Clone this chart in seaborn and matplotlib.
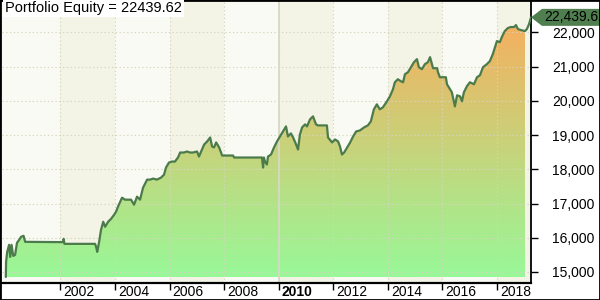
import numpy as np
import pandas as pd
import matplotlib
matplotlib.use("Agg")
import matplotlib.pyplot as plt
import seaborn as sns
from matplotlib.colors import LinearSegmentedColormap
from matplotlib.patches import Polygon, Rectangle
from matplotlib.transforms import IdentityTransform, ScaledTranslation
import matplotlib.ticker as mticker

# ---- data (decimal year, portfolio equity) ----
years = [2000.00, 2000.01, 2000.05, 2000.12, 2000.16, 2000.21, 2000.27, 2000.34, 2000.41, 2000.49,
         2000.56, 2000.65, 2000.71, 2002.10, 2002.12, 2002.15, 2003.27, 2003.31, 2003.35, 2003.42,
         2003.49, 2003.57, 2003.64, 2003.75, 2003.86, 2003.97, 2004.04, 2004.11, 2004.26, 2004.37,
         2004.48, 2004.59, 2004.70, 2004.81, 2004.92, 2005.03, 2005.18, 2005.29, 2005.40, 2005.54,
         2005.69, 2005.80, 2005.87, 2005.98, 2006.09, 2006.20, 2006.31, 2006.39, 2006.53, 2006.64,
         2006.75, 2006.86, 2007.01, 2007.08, 2007.16, 2007.27, 2007.38, 2007.49, 2007.56, 2007.63,
         2007.71, 2007.82, 2007.93, 2008.33, 2008.37, 2009.39, 2009.43, 2009.46, 2009.50, 2009.57,
         2009.61, 2009.72, 2009.83, 2009.94, 2010.05, 2010.16, 2010.27, 2010.34, 2010.45, 2010.53,
         2010.64, 2010.71, 2010.78, 2010.86, 2010.97, 2011.04, 2011.15, 2011.26, 2011.37, 2011.44,
         2011.77, 2011.81, 2011.96, 2012.07, 2012.18, 2012.25, 2012.32, 2012.40, 2012.51, 2012.62,
         2012.73, 2012.84, 2012.98, 2013.13, 2013.27, 2013.38, 2013.49, 2013.60, 2013.71, 2013.82,
         2013.97, 2014.08, 2014.19, 2014.26, 2014.37, 2014.48, 2014.56, 2014.63, 2014.74, 2014.85,
         2014.96, 2015.07, 2015.14, 2015.25, 2015.36, 2015.47, 2015.55, 2015.62, 2015.66, 2015.81,
         2015.84, 2015.91, 2016.13, 2016.17, 2016.28, 2016.35, 2016.46, 2016.54, 2016.65, 2016.72,
         2016.79, 2016.90, 2017.01, 2017.16, 2017.27, 2017.38, 2017.49, 2017.63, 2017.74, 2017.85,
         2017.93, 2018.00, 2018.11, 2018.18, 2018.29, 2018.40, 2018.51, 2018.63, 2018.70, 2018.77,
         2018.88, 2019.03, 2019.10, 2019.18, 2019.25]
equity = [14853, 15293, 15587, 15792, 15440, 15792, 15469, 15499, 15851, 15939,
          16027, 16056, 15880, 15871, 15968, 15821, 15821, 15733, 15587, 15880,
          16232, 16467, 16320, 16467, 16554, 16672, 16760, 16907, 17170, 17112,
          17112, 17112, 16965, 17200, 17112, 17464, 17698, 17698, 17728, 17698,
          17757, 17845, 18050, 18197, 18226, 18226, 18344, 18490, 18490, 18520,
          18490, 18490, 18520, 18373, 18520, 18725, 18813, 18930, 18666, 18637,
          18784, 18637, 18402, 18402, 18344, 18344, 18050, 18344, 18226, 18138,
          18373, 18432, 18637, 18813, 18960, 19106, 19253, 18960, 19048, 18930,
          18725, 18578, 19018, 19224, 19312, 19253, 19458, 19546, 19312, 19282,
          19282, 18930, 18784, 18872, 18813, 18666, 18432, 18490, 18637, 18784,
          18960, 19106, 19136, 19224, 19282, 19400, 19751, 19898, 19751, 19810,
          19986, 20133, 20338, 20543, 20631, 20573, 20543, 20778, 20837, 20983,
          21130, 21218, 20983, 20925, 21071, 21130, 21277, 21071, 20954, 20954,
          20837, 20690, 20690, 20485, 20338, 20250, 19839, 20162, 20133, 19986,
          20250, 20426, 20543, 20485, 20690, 20749, 20983, 21071, 21159, 21365,
          21570, 21746, 21716, 21863, 22039, 22127, 22157, 22157, 22215, 22098,
          22069, 22039, 22098, 22245, 22439.62]
final_value = 22439.62
title_text = "Portfolio Equity = 22439.62"
x_ticks = [2002, 2004, 2006, 2008, 2010, 2012, 2014, 2016, 2018]
x_tick_labels = ["2002", "2004", "2006", "2008", "2010", "2012", "2014", "2016", "2018"]
y_ticks = [15000, 16000, 17000, 18000, 19000, 20000, 21000, 22000]

df = pd.DataFrame({"year": years, "equity": equity})

# ---- style ----
sns.set_theme(style="white")
plt.rcParams["font.family"] = ["Liberation Sans", "DejaVu Sans"]

W, H = 600, 300
fig = plt.figure(figsize=(6, 3), dpi=100)
fig.patch.set_facecolor("white")
ax = fig.add_axes([2 / W, 17 / H, 529 / W, 283 / H])

xmin, xmax = 1999.86, 2019.25
ymin, ymax = 14677, 22947
base = 14853
fill_end = 2019.07

ax.set_facecolor("#fafaf4")
for a in [2002, 2006, 2010, 2014, 2018]:
    ax.axvspan(a, min(a + 2, xmax), color="#f3f3e6", lw=0, zorder=0)

# gradient fill under the curve
fill_df = df[df["year"] <= fill_end]
fx = np.r_[fill_df["year"].iloc[0], fill_df["year"].values, fill_df["year"].iloc[-1]]
fy = np.r_[base, fill_df["equity"].values, base]
clip = Polygon(np.column_stack([fx, fy]), closed=True, transform=ax.transData,
               facecolor="none", edgecolor="none")
ax.add_patch(clip)
cmap = LinearSegmentedColormap.from_list("eq", ["#98f898", "#f7ae5e"])
grad = np.linspace(0, 1, 256).reshape(-1, 1)
im = ax.imshow(grad, extent=[fx.min(), fx.max(), base, final_value], origin="lower",
               cmap=cmap, aspect="auto", zorder=1, interpolation="bicubic")
im.set_clip_path(clip)

# grid
for xt in x_ticks:
    ax.axvline(xt, color="#d6d6c0", lw=0.8, ls=(0, (1.2, 2.2)), zorder=2)
for yt in y_ticks:
    ax.axhline(yt, color="#d6d6c0", lw=0.8, ls=(0, (1.2, 2.2)), zorder=2)
ax.axvline(2010, color="#d8d8c6", lw=1.3, zorder=2.1)

# equity line
sns.lineplot(data=df, x="year", y="equity", ax=ax, color="#4b7b4b", lw=1.6,
             estimator=None, zorder=3)

ax.set_xlim(xmin, xmax)
ax.set_ylim(ymin, ymax)
ax.set_xlabel("")
ax.set_ylabel("")

# ticks
ax.set_xticks(x_ticks)
ax.set_xticklabels(x_tick_labels)
ax.tick_params(axis="x", bottom=True, direction="out", length=5, width=1,
               color="black", labelsize=10, pad=-3.5, labelcolor="black")
offset = ScaledTranslation(3 / 100, 0, fig.dpi_scale_trans)
for lbl in ax.get_xticklabels():
    lbl.set_ha("left")
    lbl.set_transform(lbl.get_transform() + offset)
ax.get_xticklabels()[x_ticks.index(2010)].set_fontweight("bold")

ax.yaxis.tick_right()
ax.set_yticks(y_ticks)
ax.yaxis.set_major_formatter(mticker.FuncFormatter(lambda v, p: f"{v:,.0f}"))
ax.tick_params(axis="y", right=True, left=False, direction="out", length=5, width=1,
               color="black", labelsize=10, pad=10, labelcolor="black")

for s in ["top", "left"]:
    ax.spines[s].set_visible(False)
ax.spines["right"].set_color("black")
ax.spines["right"].set_linewidth(1.3)
ax.spines["bottom"].set_color("black")
ax.spines["bottom"].set_linewidth(1.6)

# title
fig.text(5 / W, 1 - 8 / H, title_text, ha="left", va="center", fontsize=10.5,
         color="black", bbox=dict(facecolor="white", edgecolor="none", pad=1.5))

# last value marker
tx, ty = ax.transData.transform((xmax, final_value))
marker = Polygon([(tx, ty), (tx + 11, ty + 8.5), (W + 5, ty + 8.5), (W + 5, ty - 8.5), (tx + 11, ty - 8.5)],
                 closed=True, transform=IdentityTransform(), facecolor="#4f7f4f",
                 edgecolor="none", clip_on=False)
fig.add_artist(marker)
fig.text(tx + 13, ty, f"{final_value:,.2f}", transform=IdentityTransform(),
         ha="left", va="center", fontsize=10, color="black")

# figure border
fig.add_artist(Rectangle((0, 0), 1, 1, transform=fig.transFigure, fill=False,
                         edgecolor="black", lw=2, clip_on=False))

fig.savefig("out.png", dpi=100)
